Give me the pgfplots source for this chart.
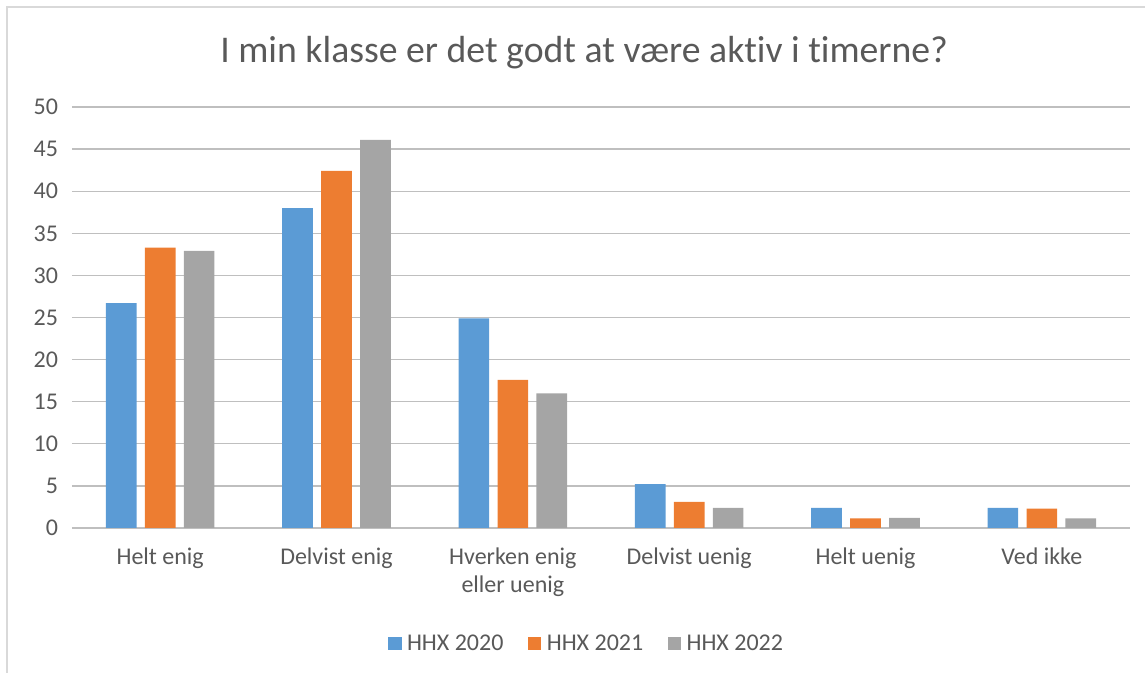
\documentclass[border=0pt]{standalone}
\usepackage{pgfplots}
\pgfplotsset{compat=1.18}
\usepackage{fontspec}
\setmainfont{Carlito}[RawFeature=-liga]
\definecolor{c20}{HTML}{5B9BD5}
\definecolor{c21}{HTML}{ED7D31}
\definecolor{c22}{HTML}{A5A5A5}
\definecolor{grid}{HTML}{D9D9D9}
\definecolor{txt}{HTML}{595959}
\begin{document}
\begin{tikzpicture}
\path[use as bounding box] (0,0) rectangle (858.75pt,504.75pt);
\draw[grid, line width=1pt] (5.25pt,0) -- (5.25pt,499.5pt) -- (858.75pt,499.5pt);
\node[txt, font=\fontsize{28.3}{32}\selectfont] at (438pt,465pt) {I min klasse er det godt at være aktiv i timerne?};
\begin{axis}[
    at={(54pt,108.75pt)}, anchor=south west,
    scale only axis, width=793.5pt, height=315.75pt,
    ybar=6.2pt, bar width=23pt,
    xmin=-0.5, xmax=5.5, ymin=0, ymax=50,
    xtick={0,...,5},
    xticklabels={Helt enig, Delvist enig, {Hverken enig\\eller uenig}, Delvist uenig, Helt uenig, Ved ikke},
    xticklabel style={align=center, text=txt, font=\fontsize{18}{21.5}\selectfont},
    ytick={0,5,...,50},
    yticklabel style={text=txt, font=\fontsize{18}{21}\selectfont},
    /pgf/number format/assume math mode=true,
    ymajorgrids, xmajorgrids=false, grid style={grid, line width=1pt},
    axis line style={draw=none},
    major tick length=0pt,
    xticklabel shift=11pt, yticklabel shift=7pt,
    legend style={at={(0.4868,-0.274)}, anchor=center, draw=none, legend columns=-1,
        font=\fontsize{18}{21}\selectfont, text=txt,
        /tikz/every even column/.append style={column sep=16.5pt}},
    legend image code/.code={\fill[#1] (0pt,-5pt) rectangle (10pt,5pt);},
    legend cell align=left,
]
\addplot[fill=c20, draw=none] coordinates {(0,26.7) (1,38.0) (2,24.9) (3,5.2) (4,2.4) (5,2.4)};
\addplot[fill=c21, draw=none] coordinates {(0,33.3) (1,42.4) (2,17.6) (3,3.1) (4,1.15) (5,2.3)};
\addplot[fill=c22, draw=none] coordinates {(0,32.9) (1,46.1) (2,16.0) (3,2.4) (4,1.2) (5,1.15)};
\legend{\hspace{2pt}HHX 2020, \hspace{2pt}HHX 2021, \hspace{2pt}HHX 2022}
\end{axis}
\end{tikzpicture}
\end{document}
